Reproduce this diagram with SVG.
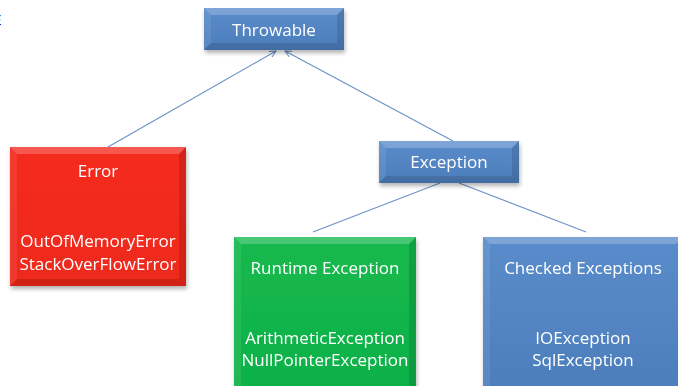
<svg xmlns="http://www.w3.org/2000/svg" width="678" height="386" viewBox="0 0 678 386">
  <defs>
    <linearGradient id="gBlue" x1="0" y1="0" x2="0" y2="1">
      <stop offset="0" stop-color="#5a8ccb"/>
      <stop offset="1" stop-color="#4c7dbb"/>
    </linearGradient>
    <linearGradient id="gRed" x1="0" y1="0" x2="0" y2="1">
      <stop offset="0" stop-color="#f42a1e"/>
      <stop offset="1" stop-color="#ee291d"/>
    </linearGradient>
    <linearGradient id="gGreen" x1="0" y1="0" x2="0" y2="1">
      <stop offset="0" stop-color="#13b94d"/>
      <stop offset="1" stop-color="#10b048"/>
    </linearGradient>
    <filter id="shadow" x="-10%" y="-10%" width="120%" height="130%">
      <feGaussianBlur in="SourceAlpha" stdDeviation="2"/>
      <feOffset dx="1" dy="3"/>
      <feComponentTransfer><feFuncA type="linear" slope="0.3"/></feComponentTransfer>
      <feMerge><feMergeNode/><feMergeNode in="SourceGraphic"/></feMerge>
    </filter>
    <marker id="arrow" viewBox="0 0 10 10" refX="9" refY="5" markerWidth="8" markerHeight="8" orient="auto" markerUnits="userSpaceOnUse">
      <path d="M1 1 L9 5 L1 9" fill="none" stroke="#5b85bf" stroke-width="1.2"/>
    </marker>
  </defs>
  <style>
    .lbl { font-family: "Open Sans", "Noto Sans", "Liberation Sans", sans-serif; font-size: 17px; fill: #ffffff; text-anchor: middle; }
    .edge { stroke: #6d93c7; stroke-width: 1.2; fill: none; }
    .hi { fill: #ffffff; opacity: 0.22; }
    .lo { fill: #000000; opacity: 0.12; }
    .side { fill: #ffffff; opacity: 0.08; }
  </style>

  <rect width="678" height="386" fill="#ffffff"/>
  <text x="-8" y="25" style="font-family: 'Liberation Sans', sans-serif; font-size: 14px; fill: #000;">E</text>

  <!-- connectors -->
  <g id="connectors">
    <line class="edge" x1="108" y1="147" x2="276" y2="51" marker-end="url(#arrow)"/>
    <line class="edge" x1="453" y1="141" x2="285" y2="51" marker-end="url(#arrow)"/>
    <line class="edge" x1="440" y1="183" x2="313" y2="232"/>
    <line class="edge" x1="459" y1="183" x2="586" y2="232"/>
  </g>

  <!-- Throwable -->
  <g id="throwable" filter="url(#shadow)">
    <rect x="204" y="8" width="140" height="42" fill="url(#gBlue)"/>
    <polygon class="hi" points="204,8 344,8 337,15 211,15"/>
    <polygon class="side" points="204,8 211,15 211,43 204,50"/>
    <polygon class="lo" points="344,8 344,50 337,43 337,15"/>
    <polygon class="lo" points="204,50 344,50 337,43 211,43"/>
    <text class="lbl" x="274" y="36">Throwable</text>
  </g>

  <!-- Error -->
  <g id="error" filter="url(#shadow)">
    <rect x="10" y="147" width="176" height="139" fill="url(#gRed)"/>
    <polygon class="hi" points="10,147 186,147 179,154 17,154"/>
    <polygon class="side" points="10,147 17,154 17,279 10,286"/>
    <polygon class="lo" points="186,147 186,286 179,279 179,154"/>
    <polygon class="lo" points="10,286 186,286 179,279 17,279"/>
    <text class="lbl" x="98" y="177">Error</text>
    <text class="lbl" x="98" y="247">OutOfMemoryError</text>
    <text class="lbl" x="98" y="270">StackOverFlowError</text>
  </g>

  <!-- Exception -->
  <g id="exception" filter="url(#shadow)">
    <rect x="379" y="141" width="140" height="42" fill="url(#gBlue)"/>
    <polygon class="hi" points="379,141 519,141 512,148 386,148"/>
    <polygon class="side" points="379,141 386,148 386,176 379,183"/>
    <polygon class="lo" points="519,141 519,183 512,176 512,148"/>
    <polygon class="lo" points="379,183 519,183 512,176 386,176"/>
    <text class="lbl" x="449" y="168">Exception</text>
  </g>

  <!-- Runtime Exception -->
  <g id="runtime" filter="url(#shadow)">
    <rect x="234" y="237" width="182" height="160" fill="url(#gGreen)"/>
    <polygon class="hi" points="234,237 416,237 409,244 241,244"/>
    <polygon class="side" points="234,237 241,244 241,397 234,397"/>
    <polygon class="lo" points="416,237 416,397 409,397 409,244"/>
    <text class="lbl" x="325" y="274">Runtime Exception</text>
    <text class="lbl" x="325" y="344">ArithmeticException</text>
    <text class="lbl" x="325" y="366">NullPointerException</text>
  </g>

  <!-- Checked Exceptions -->
  <g id="checked" filter="url(#shadow)">
    <rect x="483" y="237" width="200" height="160" fill="url(#gBlue)"/>
    <polygon class="hi" points="483,237 683,237 676,244 490,244"/>
    <polygon class="side" points="483,237 490,244 490,397 483,397"/>
    <text class="lbl" x="583" y="274">Checked Exceptions</text>
    <text class="lbl" x="583" y="344">IOException</text>
    <text class="lbl" x="583" y="366">SqlException</text>
  </g>
</svg>
